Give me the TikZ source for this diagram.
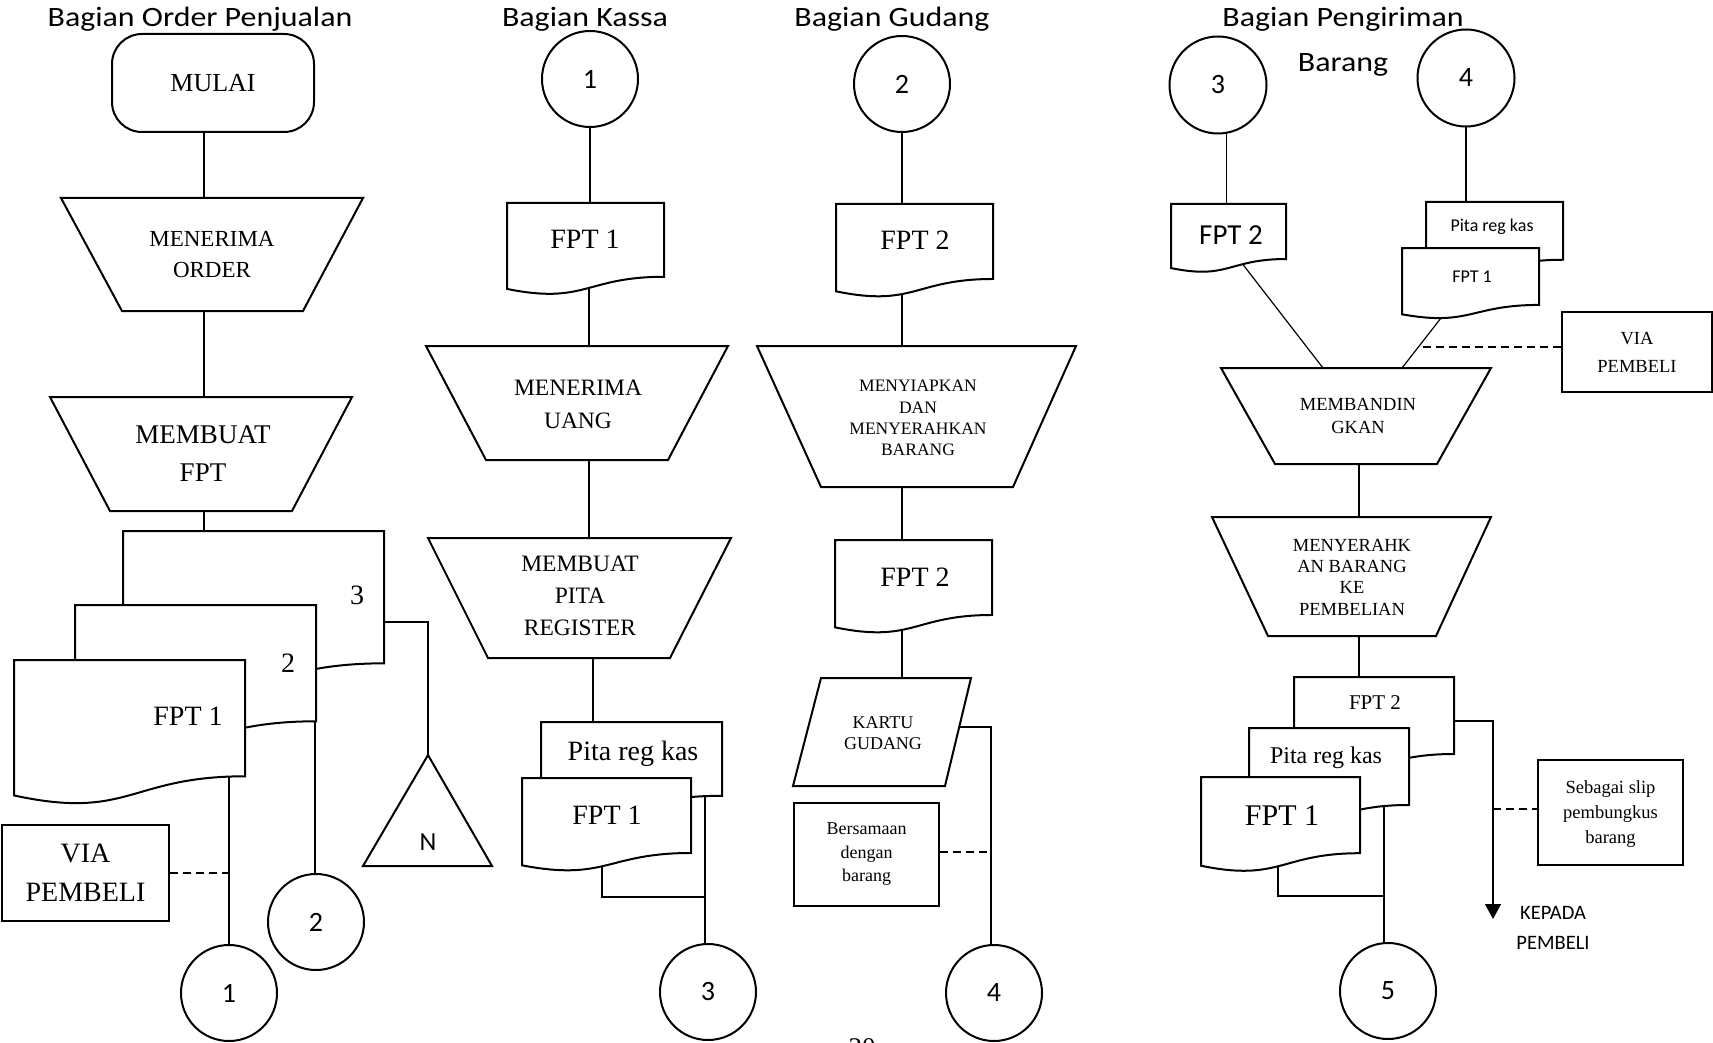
\documentclass[tikz,border=0pt]{standalone}
\usepackage{fontspec}
\setmainfont{Liberation Serif}
\newfontfamily\calfont{Carlito}
\newfontfamily\calwide[FakeStretch=1.14]{Carlito}
\usetikzlibrary{arrows.meta}
\pgfdeclarelayer{bg}
\pgfsetlayers{bg,main}
\newcommand\DocShape[4]{%
  \draw[shp] (#1,#2) -- (#3,#2) -- (#3,{#2+0.802*#4})
    .. controls ({(#1+#3)/2},{#2+0.802*#4}) and ({(#1+#3)/2},{#2+1.107*#4}) .. (#1,{#2+0.934*#4}) -- cycle;}
\newcommand\TrapShape[6]{%
  \draw[shp] (#1,#3) -- (#2,#3) -- (#5,#6) -- (#4,#6) -- cycle;}
\begin{document}
\begin{tikzpicture}[x=1pt,y=-1pt,
  shp/.style={draw=black,line width=2pt,fill=white},
  con/.style={draw=black,line width=1.2pt},
  dsh/.style={con,dash pattern=on 8pt off 5pt},
  cnode/.style={circle,draw=black,line width=2pt,fill=white,minimum size=96pt,inner sep=0pt,font=\calfont\fontsize{28}{28}\selectfont},
  ttl/.style={font=\calwide\fontsize{28}{34}\selectfont,inner sep=0pt},
  txt/.style={inner sep=0pt,align=center},
  box/.style={shp,inner sep=0pt,align=center}]
\useasboundingbox (0,0) rectangle (1713,1043);

% ---------- Column 1 ----------
\node[shp,rounded corners=30pt,minimum width=202pt,minimum height=98pt,inner sep=0pt,font=\fontsize{26}{26}\selectfont] (mulai) at (213,83) {MULAI};
\TrapShape{61}{363}{198}{122}{303}{311}
\node[txt,font=\fontsize{23}{31}\selectfont] (menord) at (212,255) {MENERIMA\\ORDER};
\TrapShape{50}{352}{397}{110}{292}{511}
\node[txt,font=\fontsize{27}{38}\selectfont] (mbfpt) at (203,454) {MEMBUAT\\FPT};
\DocShape{123}{531}{384}{165}
\node[txt,font=\fontsize{28}{28}\selectfont] (d3) at (357,595) {3};
\DocShape{75}{605}{316}{145}
\node[txt,font=\fontsize{28}{28}\selectfont] (d2) at (288,663) {2};
\DocShape{14}{660}{245}{145}
\node[txt,font=\fontsize{28}{28}\selectfont] (d1) at (188,716) {FPT 1};
\draw[shp] (428,755) -- (492,866) -- (363,866) -- cycle;
\coordinate (triTop) at (428,755);
\node[txt,font=\calfont\fontsize{26}{26}\selectfont] (nn) at (428,842) {N};
\node[cnode] (c1a) at (229,993) {1};
\node[cnode] (c2a) at (316,922) {2};
\node[box,minimum width=167pt,minimum height=96pt,font=\fontsize{28}{39}\selectfont] (via1) at (85.5,873) {VIA\\PEMBELI};

% ---------- Column 2 ----------
\node[cnode] (k1) at (590,79) {1};
\DocShape{507}{203}{664}{92}
\node[txt,font=\fontsize{28}{28}\selectfont] (kfpt) at (585,239) {FPT 1};
\TrapShape{426}{728}{346}{486}{668}{460}
\node[txt,font=\fontsize{23.5}{33}\selectfont] (kmu) at (578,404) {MENERIMA\\UANG};
\TrapShape{428}{731}{538}{488}{670}{658}
\node[txt,font=\fontsize{23.5}{32}\selectfont] (kmp) at (580,596) {MEMBUAT\\PITA\\REGISTER};
\DocShape{541}{722}{722}{92}
\node[txt,font=\fontsize{28}{28}\selectfont,anchor=base] (kpita) at (633,760) {Pita reg kas};
\DocShape{522}{778}{691}{93.5}
\node[txt,font=\fontsize{28}{28}\selectfont] (kfpt2) at (607,815) {FPT 1};
\node[cnode] (c3k) at (708,992) {3};

% ---------- Column 3 ----------
\node[cnode] (g2) at (902,84) {2};
\DocShape{836}{204}{993}{93.5}
\node[txt,font=\fontsize{28}{28}\selectfont] (gf1) at (915,240) {FPT 2};
\TrapShape{757}{1076}{346}{821}{1013}{487}
\node[txt,font=\fontsize{17.5}{21.3}\selectfont] (gmsp) at (918,418) {MENYIAPKAN\\DAN\\MENYERAHKAN\\BARANG};
\DocShape{835}{540}{992}{93.5}
\node[txt,font=\fontsize{28}{28}\selectfont] (gf2) at (915,577) {FPT 2};
\draw[shp] (821,678) -- (971,678) -- (945,786) -- (793,786) -- cycle;
\node[txt,font=\fontsize{18}{21}\selectfont] (gkartu) at (883,733) {KARTU\\GUDANG};
\node[box,minimum width=145pt,minimum height=103pt,font=\fontsize{18}{23.5}\selectfont] (gbers) at (866.5,854.5) {Bersamaan\\dengan\\barang};
\node[cnode] (c4g) at (994,993) {4};
\node[anchor=north,font=\fontsize{27}{27}\selectfont,inner sep=0pt] (pgnum) at (862,1038) {20};

% ---------- Column 4 ----------
\node[cnode,minimum size=97pt] (p3) at (1218,85) {3};
\node[cnode,minimum size=97pt] (p4) at (1466,78) {4};
\DocShape{1171}{204}{1286}{68.6}
\node[txt,font=\calfont\fontsize{29}{29}\selectfont] (pf2) at (1231,235) {FPT 2};
\DocShape{1426}{202}{1563}{72}
\node[txt,font=\calfont\fontsize{18}{18}\selectfont] (ppita) at (1492,227) {Pita reg kas};
\DocShape{1402}{248}{1539}{71}
\node[txt,font=\calfont\fontsize{18}{18}\selectfont] (pf1) at (1472,277) {FPT 1};
\node[box,minimum width=150pt,minimum height=80pt,font=\fontsize{18.5}{28}\selectfont] (via2) at (1637,352) {VIA\\PEMBELI};
\TrapShape{1221}{1491}{368}{1275}{1437}{464}
\node[txt,font=\fontsize{18.5}{22.5}\selectfont] (pmbd) at (1358,416) {MEMBANDIN\\GKAN};
\TrapShape{1212}{1491}{517}{1268}{1436}{636}
\node[txt,font=\fontsize{18.5}{21.3}\selectfont] (pmyr) at (1352,577) {MENYERAHK\\AN BARANG\\KE\\PEMBELIAN};
\DocShape{1294}{677}{1454}{96}
\node[txt,font=\fontsize{21}{21}\selectfont] (pf2b) at (1375,703) {FPT 2};
\DocShape{1249}{728}{1409}{96}
\node[txt,font=\fontsize{24}{24}\selectfont,anchor=base] (ppb) at (1326,763) {Pita reg kas};
\DocShape{1201}{777}{1360}{95}
\node[txt,font=\fontsize{30}{30}\selectfont] (pf1b) at (1282,816) {FPT 1};
\node[shp,minimum width=145pt,minimum height=105pt] (pslip) at (1610.5,812.5) {};
\node[txt,font=\fontsize{18.5}{25}\selectfont] (psliptxt) at (1610.5,814.5) {Sebagai slip\\pembungkus\\barang};
\node[txt,font=\calfont\fontsize{20.5}{30}\selectfont] (kpd) at (1553,928) {KEPADA\\PEMBELI};
\node[cnode] (c5) at (1388,991) {5};

% ---------- Titles ----------
\node[ttl,anchor=base] (t1) at (200,27) {Bagian Order Penjualan};
\node[ttl,anchor=base] (t2) at (585,27) {Bagian Kassa};
\node[ttl,anchor=base] (t3) at (892,27) {Bagian Gudang};
\node[ttl,anchor=base] (t4) at (1343,27) {Bagian Pengiriman};
\node[ttl,anchor=base] (t4b) at (1343,72) {Barang};

% ---------- Connectors ----------
\begin{pgfonlayer}{bg}
\draw[con] (204,100) -- (204,198);
\draw[con] (204,311) -- (204,397);
\draw[con] (204,511) -- (204,531);
\draw[con] (384,622) -| (triTop);
\draw[con] (315,700) -- (315,875);
\draw[con] (229,760) -- (c1a.north);
\draw[dsh] (via1.east |- 0,873) -- (229,873);

\draw[con] (k1.south) -- (590,203);
\draw[con] (589,280) -- (589,346);
\draw[con] (589,460) -- (589,538);
\draw[con] (593,658) -- (593,722);
\draw[con] (705,780) -- (705,945);
\draw[con] (602,850) |- (705,897);

\draw[con] (g2.south) -- (902,204);
\draw[con] (902,280) -- (902,346);
\draw[con] (902,487) -- (902,540);
\draw[con] (902,620) -- (902,678);
\draw[con] (950,727) -| (991,946);
\draw[dsh] (gbers.east |- 0,852) -- (991,852);

\draw[con] (p3.-80) -- (p3.-80 |- 0,204);
\draw[con] (1241,262) -- (1323,368);
\draw[con] (p4.south) -- (1466,202);
\draw[con] (1441,318) -- (1402,368);
\draw[dsh] (via2.west |- 0,347) -- (1420,347);
\draw[con] (1359,464) -- (1359,517);
\draw[con] (1359,636) -- (1359,677);
\draw[con,-{Triangle[length=15pt,width=16pt]}] (1440,721) -| (1493,919);
\draw[dsh] (1493,809) -- (pslip.west |- 0,809);
\draw[con] (1384,790) -- (1384,945);
\draw[con] (1278,850) |- (1384,896);
\end{pgfonlayer}
\end{tikzpicture}
\end{document}
